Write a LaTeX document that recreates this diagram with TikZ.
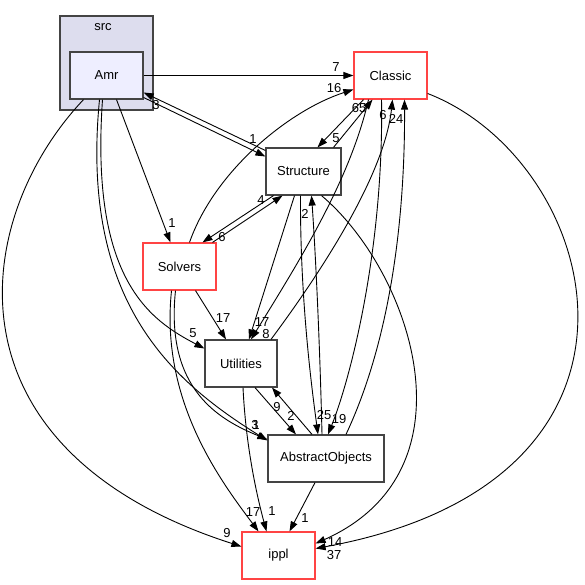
\documentclass[tikz,border=0pt]{standalone}
\usepackage{fontspec}
\setmainfont{Liberation Sans}
\usetikzlibrary{arrows.meta}
\definecolor{clusterfill}{HTML}{DDDDEE}
\definecolor{amrfill}{HTML}{EEEEFF}
\definecolor{boxline}{HTML}{444444}
\definecolor{extred}{HTML}{FF4444}
\tikzset{
	dirbox/.style={draw=boxline, line width=1.2pt, fill=white, minimum width=73pt, minimum height=47pt, inner sep=0pt},
	extbox/.style={dirbox, draw=extred},
	dep/.style={-{Triangle[length=10pt,width=7pt]}, line width=0.9pt},
	cnt/.style={inner sep=0pt}
}
\begin{document}
\begin{tikzpicture}[x=1pt, y=-1pt, font=\fontsize{13}{15}\selectfont]
		\useasboundingbox (0,0) rectangle (584,585);
		\draw [fill=clusterfill, draw=boxline, line width=1.2pt] (60,16) rectangle (153,110);
		\node [cnt] (src) at (103,27) {src};
		
		\node [dirbox, fill=amrfill] (Amr) at (106.5,75.5) {Amr};
		\node [extbox] (Classic) at (390.5,75.5) {Classic};
		\node [dirbox, minimum width=75pt] (Structure) at (303.5,171.5) {Structure};
		\node [extbox] (Solvers) at (179.5,266.5) {Solvers};
		\node [dirbox, minimum width=72pt] (Utilities) at (241,363.5) {Utilities};
		\node [dirbox, minimum width=116pt] (AbstractObjects) at (326,458.5) {AbstractObjects};
		\node [extbox] (ippl) at (278.5,555.5) {ippl};
		
		\draw [dep] (Amr.east) -- (Classic.west);
		\draw [dep] ([yshift=-22pt]Amr.east) -- ([yshift=15pt]Structure.west);
		\draw [dep] ([yshift=21pt]Structure.west) -- ([yshift=-17pt]Amr.east);
		\draw [dep] ([xshift=10pt]Solvers.north) .. controls (215,170) and (290,110) .. ([yshift=-14pt]Classic.west);
		\draw [dep] ([xshift=30pt]Structure.north) -- ([xshift=-18pt]Classic.south);
		\draw [dep] ([xshift=-27pt]Classic.south) -- ([xshift=14pt]Structure.north);
		\draw [dep] ([xshift=-22pt]Classic.south) .. controls (350,180) and (300,260) .. ([xshift=10pt]Utilities.north);
		\draw [dep] ([xshift=30pt]Utilities.north) .. controls (330,260) and (385,170) .. ([xshift=2pt]Classic.south);
		\draw [dep] ([xshift=-9pt]Classic.south) .. controls (384,250) and (350,380) .. ([xshift=2pt]AbstractObjects.north);
		\draw [dep] ([xshift=20pt]AbstractObjects.north) .. controls (395,330) and (405,200) .. ([xshift=14pt]Classic.south);
		\draw [dep] ([yshift=-18pt]Classic.east) .. controls (600,160) and (690,480) .. ([yshift=7pt]ippl.east);
		\draw [dep] ([xshift=18pt]Structure.south) .. controls (410,270) and (480,470) .. ([yshift=12pt]ippl.east);
		\draw [dep] ([xshift=-3pt]Structure.south) .. controls (300,300) and (312,390) .. ([xshift=-8pt]AbstractObjects.north);
		\draw [dep] ([xshift=-4pt]AbstractObjects.north) .. controls (320,350) and (316,260) .. ([xshift=8pt]Structure.south);
		\draw [dep] ([xshift=-9pt]Structure.south) -- ([xshift=8pt]Utilities.north);
		\draw [dep] ([xshift=-30pt]Structure.south) -- ([xshift=23pt]Solvers.north);
		\draw [dep] ([xshift=33pt]Solvers.north) -- ([xshift=-21pt]Structure.south);
		\draw [dep] ([xshift=10pt]Amr.south) -- ([xshift=-9pt]Solvers.north);
		\draw [dep] ([xshift=-4pt]Amr.south) .. controls (90,280) and (150,320) .. ([yshift=15pt]Utilities.west);
		\draw [dep] ([xshift=-7pt]Amr.south) .. controls (80,300) and (170,380) .. ([yshift=18pt]AbstractObjects.west);
		\draw [dep] ([xshift=-23pt]Amr.south) .. controls (-30,220) and (-60,450) .. ([yshift=9pt]ippl.west);
		\draw [dep] ([xshift=-4pt]Solvers.south) .. controls (165,390) and (220,420) .. ([yshift=19pt]AbstractObjects.west);
		\draw [dep] ([xshift=-8pt]Solvers.south) .. controls (160,400) and (220,480) .. ([xshift=-20pt]ippl.north);
		\draw [dep] ([xshift=16pt]Solvers.south) -- ([xshift=-15pt]Utilities.north);
		\draw [dep] ([xshift=2pt]Utilities.south) .. controls (246,450) and (258,500) .. ([xshift=-12pt]ippl.north);
		\draw [dep] ([xshift=-11pt]AbstractObjects.south) -- ([xshift=11pt]ippl.north);
		\draw [dep] ([xshift=14pt]Utilities.south) -- ([xshift=-30pt]AbstractObjects.north);
		\draw [dep] ([xshift=-14pt]AbstractObjects.north) -- ([xshift=31pt]Utilities.south);
		
		\node [cnt] (nAmrClassic) at (336,67) {7};
		\node [cnt] (nAmrStructure) at (253,139) {1};
		\node [cnt] (nStructureAmr) at (156,105) {3};
		\node [cnt] (nSolversClassic) at (334,88) {16};
		\node [cnt] (nStructureClassic) at (359,108) {65};
		\node [cnt] (nClassicStructure) at (336,138) {5};
		\node [cnt] (nClassicUtilities) at (266,334) {8};
		\node [cnt] (nUtilitiesClassic) at (383,115) {6};
		\node [cnt] (nClassicAbstract) at (339,419) {19};
		\node [cnt] (nAbstractClassic) at (396,119) {24};
		\node [cnt] (nClassicIppl) at (334,555) {37};
		\node [cnt] (nStructureIppl) at (335,542) {14};
		\node [cnt] (nStructureAbstract) at (324,415) {25};
		\node [cnt] (nAbstractStructure) at (305,214) {2};
		\node [cnt] (nStructureUtilities) at (262,322) {17};
		\node [cnt] (nStructureSolvers) at (222,237) {6};
		\node [cnt] (nSolversStructure) at (261,200) {4};
		\node [cnt] (nAmrSolvers) at (172,223) {1};
		\node [cnt] (nAmrUtilities) at (193,333) {5};
		\node [cnt] (nAmrAbstract) at (255,425) {3};
		\node [cnt] (nAmrIppl) at (227,533) {9};
		\node [cnt] (nSolversAbstract) at (256,425) {1};
		\node [cnt] (nSolversIppl) at (253,512) {17};
		\node [cnt] (nSolversUtilities) at (223,318) {17};
		\node [cnt] (nUtilitiesIppl) at (272,511) {1};
		\node [cnt] (nAbstractIppl) at (305,518) {1};
		\node [cnt] (nUtilitiesAbstract) at (291,416) {2};
		\node [cnt] (nAbstractUtilities) at (277,407) {9};
	\end{tikzpicture}
\end{document}
